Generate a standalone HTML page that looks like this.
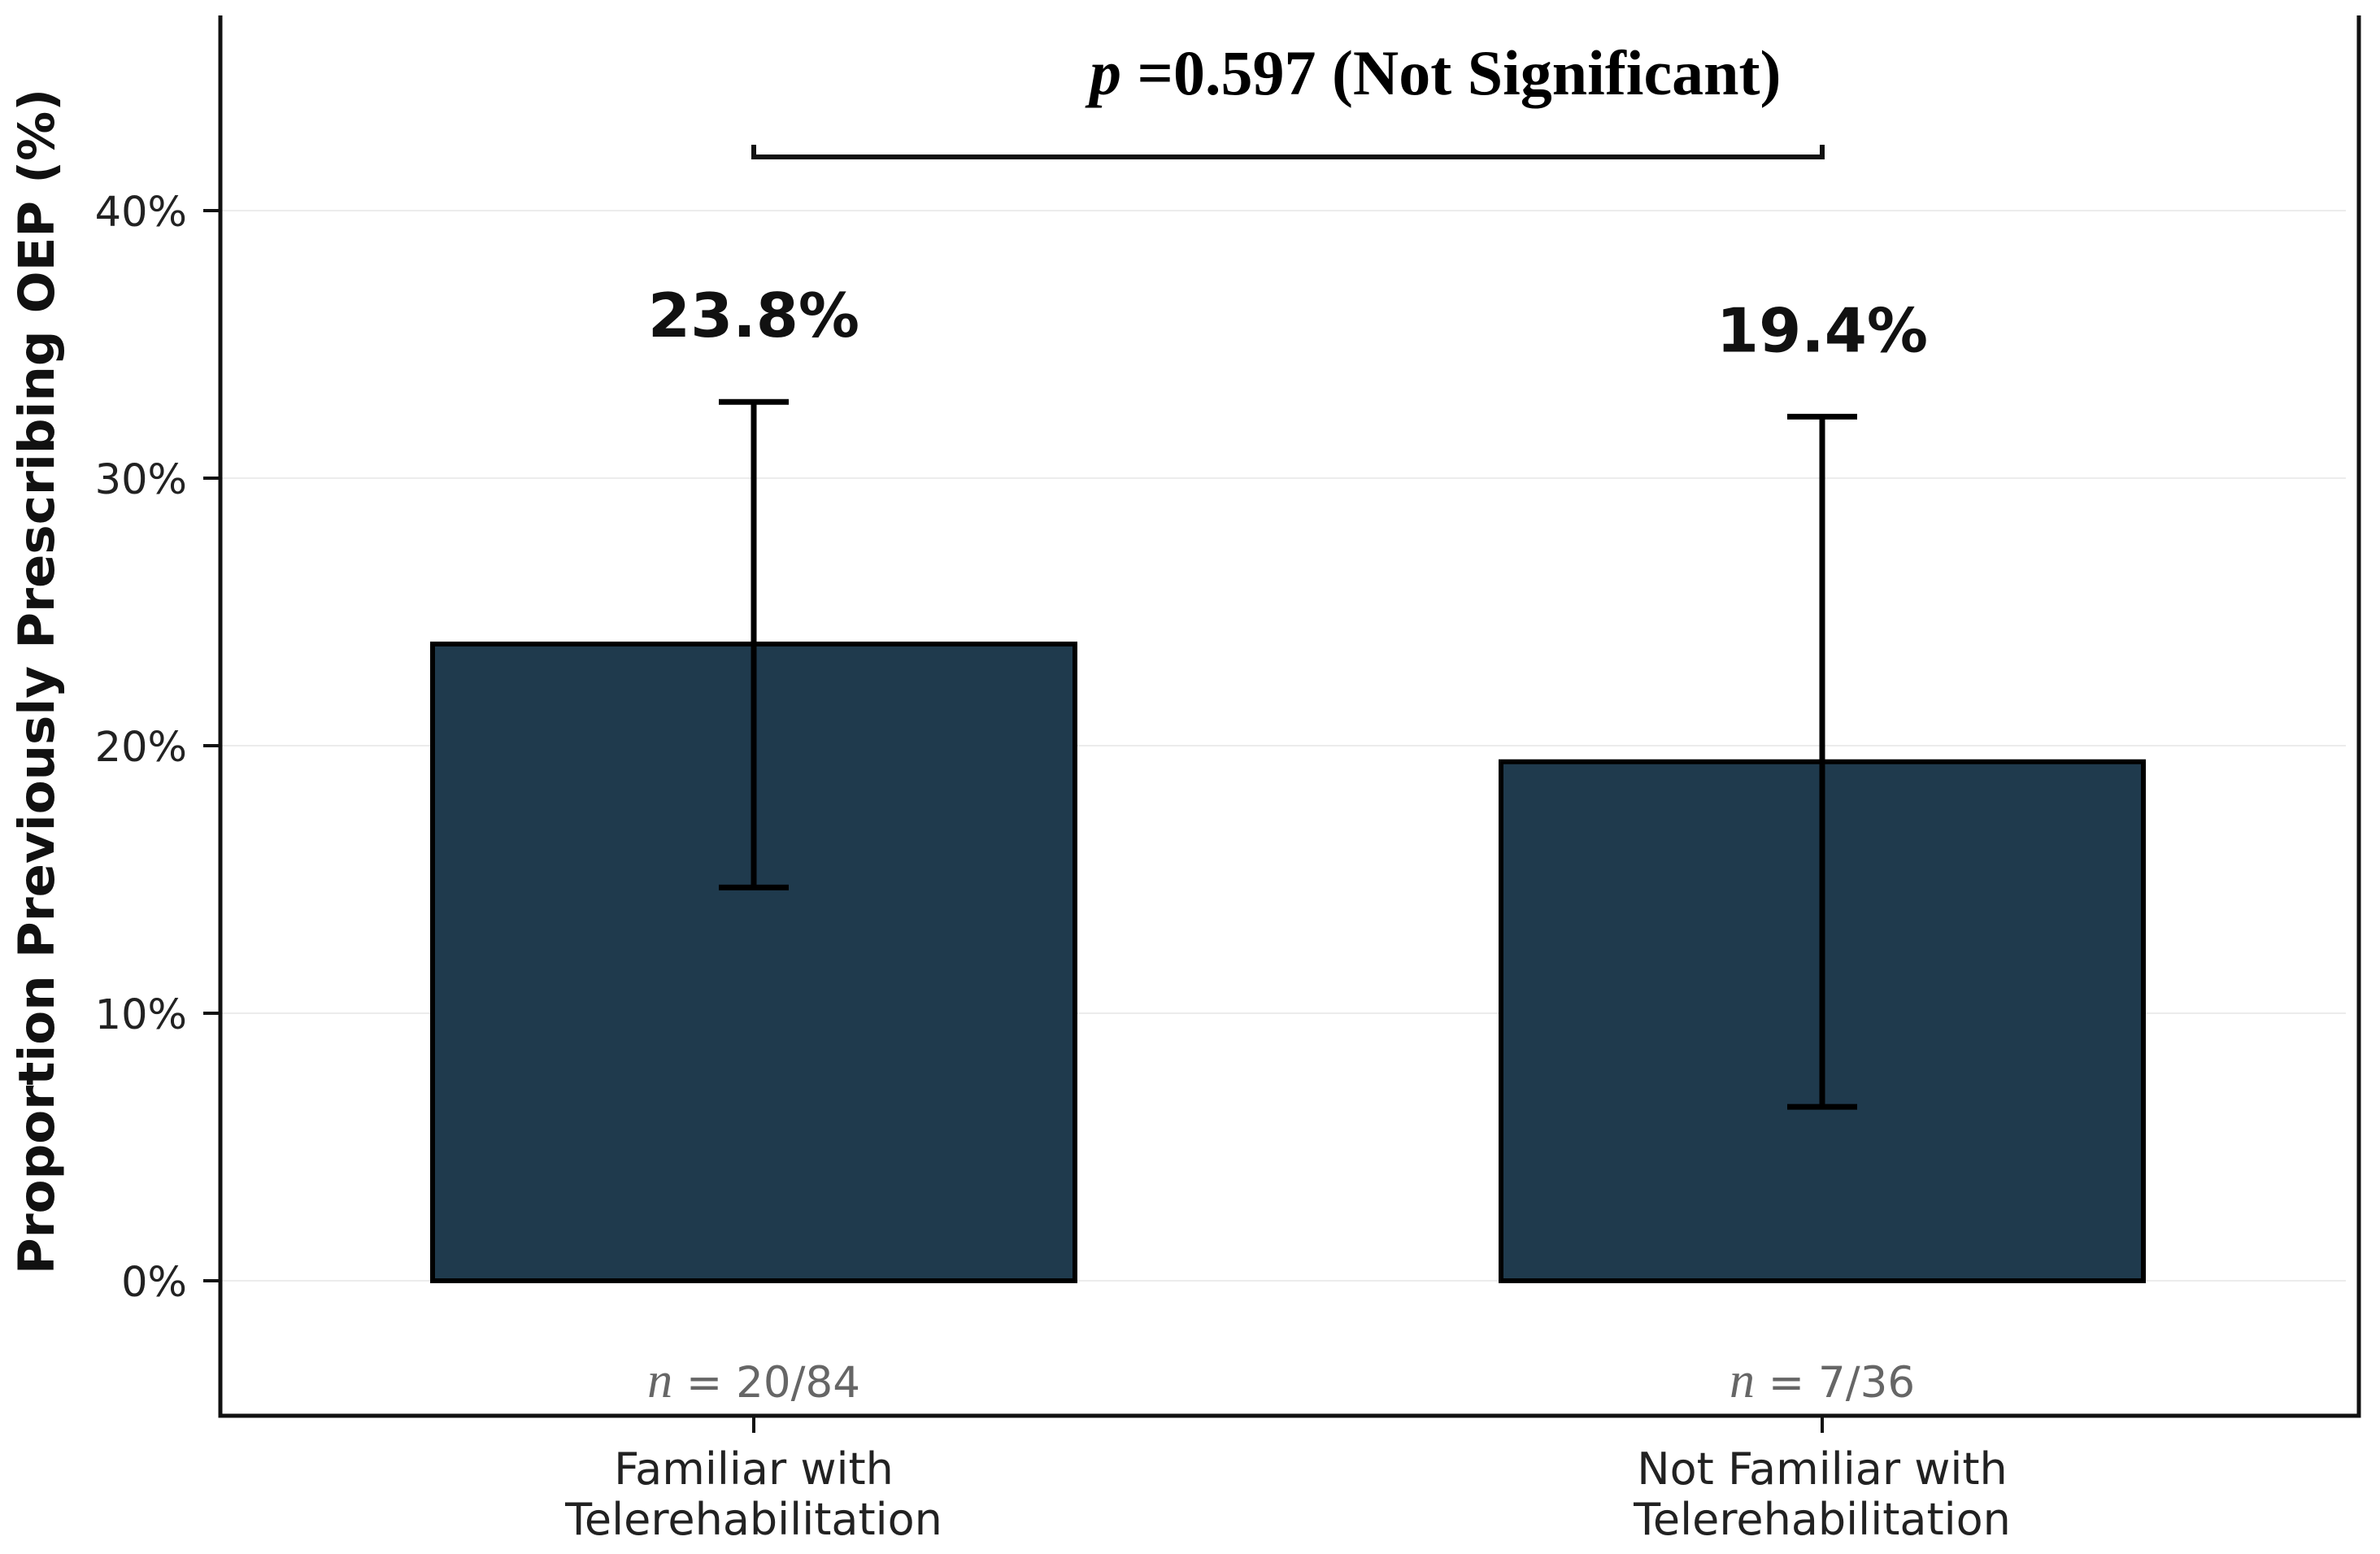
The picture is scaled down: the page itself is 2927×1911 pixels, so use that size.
<!DOCTYPE html>
<html><head><meta charset="utf-8"><style>
html,body{margin:0;padding:0;background:#fff;}
svg{display:block;}
text{font-family:"DejaVu Sans","Liberation Sans",sans-serif;}
</style></head><body>
<svg id="chart" width="2927" height="1911" viewBox="0 0 2927 1911" xmlns="http://www.w3.org/2000/svg">
<rect x="0" y="0" width="2927" height="1911" fill="#fff"/>
<g id="grid"></g>
<g id="bars"></g>
<g id="axes"></g>
<text x="66" y="838" transform="rotate(-90 66 838)" text-anchor="middle" font-size="61" font-weight="bold" fill="#111">Proportion Previously Prescribing OEP (%)</text>
<text x="1340" y="116" font-size="78" font-weight="bold" fill="#000" style="font-family:'Liberation Serif',serif"><tspan font-style="italic">p</tspan> =0.597 (Not Significant)</text>
</svg>
<script>
const categories = ["Familiar with|Telerehabilitation", "Not Familiar with|Telerehabilitation"];
const values = [23.8, 19.4];
const errLow = [14.7, 6.5];
const errHigh = [32.85, 32.3];
const valueLabels = ["23.8%", "19.4%"];
const nLabels = ["20/84", "7/36"];
const yTicks = [0, 10, 20, 30, 40];

const NS = "http://www.w3.org/2000/svg";
const y0 = 1575, pxPer = 32.9;
function yScale(v){ return y0 - v * pxPer; }
const centers = [927, 2241];
function xScale(i){ return centers[i]; }
const barW = 790;

function mk(tag, attrs, parent, txt){
  const e = document.createElementNS(NS, tag);
  for (const k in attrs) e.setAttribute(k, attrs[k]);
  if (txt !== undefined) e.textContent = txt;
  parent.appendChild(e);
  return e;
}
const grid = document.getElementById('grid');
const bars = document.getElementById('bars');
const axes = document.getElementById('axes');

yTicks.forEach(t => {
  const y = yScale(t);
  const g = mk('line', {x1: 273, x2: 2885, y1: y, y2: y, stroke: '#ececec', 'stroke-width': 2}, grid);
  
  
  const tk = mk('line', {x1: 250, x2: 271, y1: y, y2: y, stroke: '#111', 'stroke-width': 4}, axes);
  
  
  const lb = mk('text', {x: 230, y: y + 19, 'text-anchor': 'end', 'font-size': 51, fill: '#222'}, axes, t + '%');
  
  
});

values.forEach((v, i) => {
  const cx = xScale(i);
  const r = mk('rect', {x: cx - barW/2, y: yScale(v), width: barW, height: yScale(0) - yScale(v), fill: '#1f3a4d', stroke: '#000', 'stroke-width': 6}, bars);
  
  
  const e = mk('g', {stroke: '#000', 'stroke-width': 7}, bars);
  
  
  mk('line', {x1: cx, x2: cx, y1: yScale(errLow[i]), y2: yScale(errHigh[i])}, e);
  mk('line', {x1: cx - 43, x2: cx + 43, y1: yScale(errLow[i]), y2: yScale(errLow[i])}, e);
  mk('line', {x1: cx - 43, x2: cx + 43, y1: yScale(errHigh[i]), y2: yScale(errHigh[i])}, e);
  const vl = mk('text', {x: cx, y: yScale(errHigh[i]) - 80, 'text-anchor': 'middle', 'font-size': 75, 'font-weight': 'bold', fill: '#111'}, bars, valueLabels[i]);
  
  
  const nl = mk('text', {x: cx, y: 1718, 'text-anchor': 'middle', 'font-size': 53, fill: '#666'}, bars);
  
  
  mk('tspan', {'font-style': 'italic', style: "font-family:'Liberation Serif',serif", 'font-size': 62}, nl, 'n');
  mk('tspan', {}, nl, ' = ' + nLabels[i]);
  const xt = mk('line', {x1: cx, x2: cx, y1: 1741, y2: 1762, stroke: '#111', 'stroke-width': 4}, axes);
  
  
  const lines = categories[i].split('|');
  const xl = mk('text', {x: cx, y: 1825, 'text-anchor': 'middle', 'font-size': 54, fill: '#222'}, axes);
  
  
  mk('tspan', {x: cx, y: 1825}, xl, lines[0]);
  mk('tspan', {x: cx, y: 1887}, xl, lines[1]);
});

const frame = mk('path', {d: 'M271 19 V1741 H2901 V19', fill: 'none', stroke: '#111', 'stroke-width': 5}, axes);



const br = mk('path', {d: 'M' + xScale(0) + ' 178 V193 H' + xScale(1) + ' V178', fill: 'none', stroke: '#111', 'stroke-width': 6}, axes);


</script>
</body></html>
